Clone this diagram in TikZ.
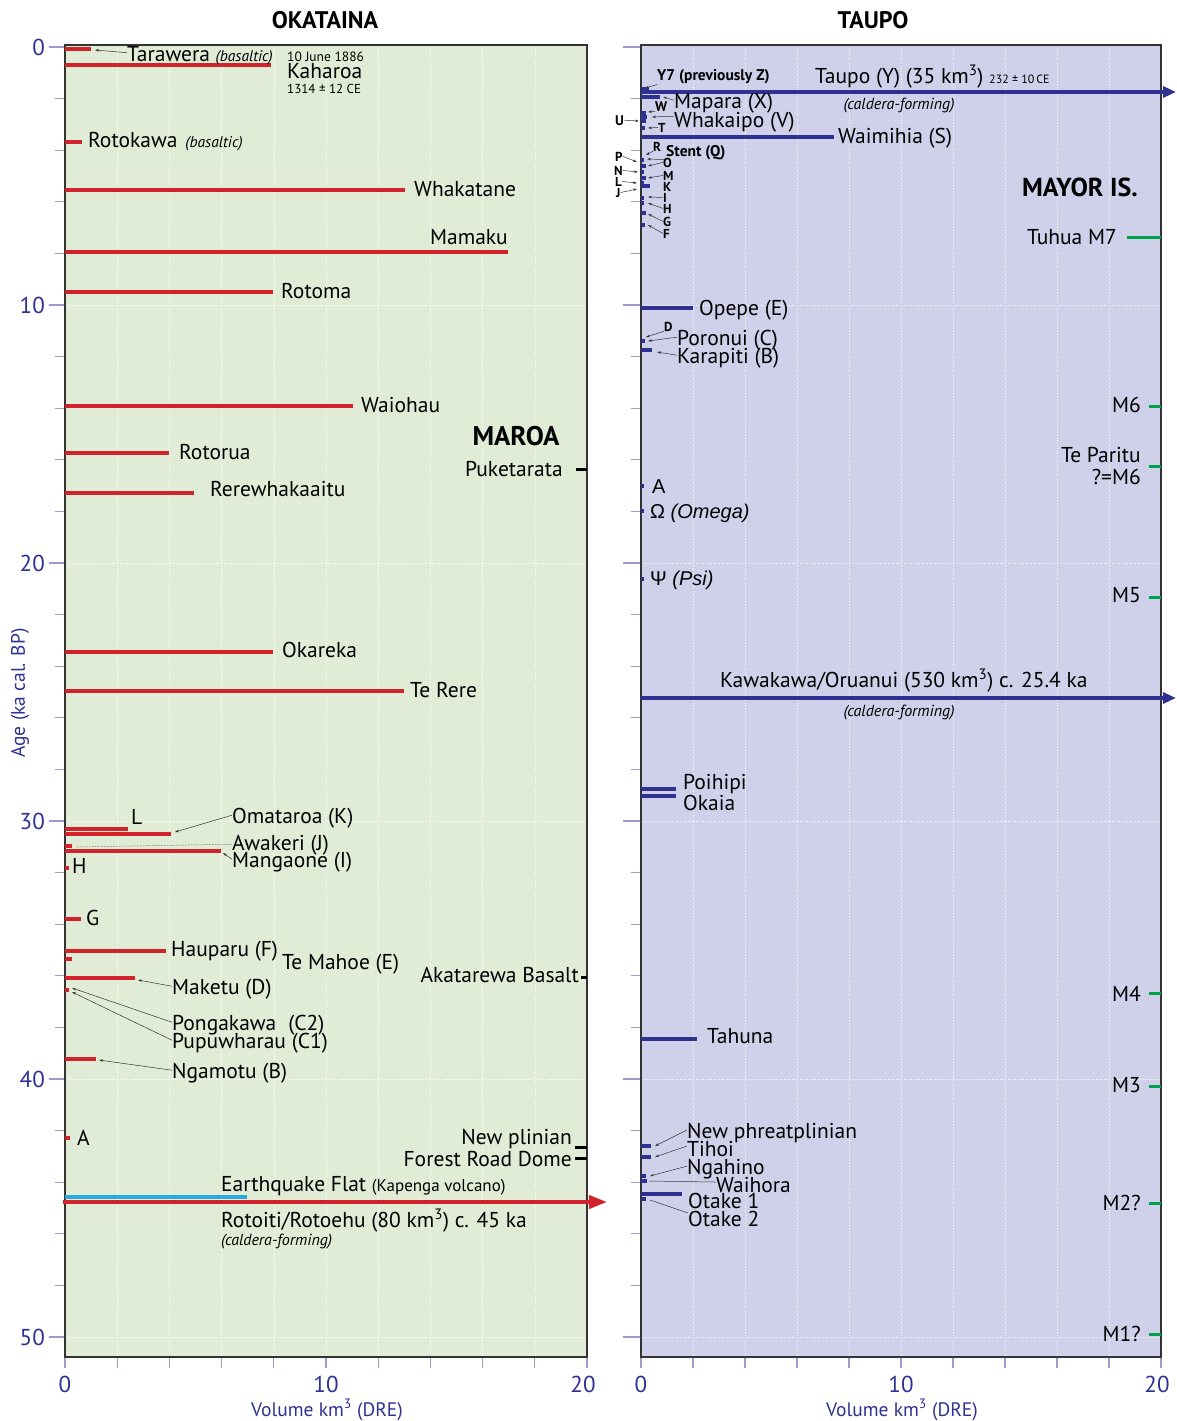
\documentclass[tikz,border=0pt]{standalone}
\usepackage{fontspec}
\setmainfont{PT Sans}
\newfontfamily\grk{Liberation Sans}
\usetikzlibrary{arrows.meta}
\definecolor{okbg}{HTML}{E0ECD6}
\definecolor{tpbg}{HTML}{CFD1EA}
\definecolor{vred}{HTML}{D2232A}
\definecolor{vblue}{HTML}{2E3192}
\definecolor{vgreen}{HTML}{00A14B}
\definecolor{vcyan}{HTML}{27AAE1}
\definecolor{axblue}{HTML}{2E3192}
\definecolor{tickc}{HTML}{9C9CD0}
\definecolor{framec}{HTML}{333333}
\newcommand\fs[1]{\fontsize{#1}{#1}\selectfont}
% bars: red (Okataina), blue (Taupo), green (Mayor Is.), black (Maroa)
\newcommand\okbar[2]{\draw[redbar] (65,#1) -- (#2,#1);}
\newcommand\tpbar[2]{\draw[bluebar] (641,#1) -- (#2,#1);}
\newcommand\mibar[2]{\draw[greenbar] (#2,#1) -- (1161,#1);}
\newcommand\mabar[2]{\draw[blackbar] (#2,#1) -- (587,#1);}
\begin{document}
\begin{tikzpicture}[x=1pt,y=-1pt,
  lab/.style={anchor=mid west,inner sep=0pt,yshift=-3pt,font=\fs{21.5}},
  rlab/.style={anchor=mid east,inner sep=0pt,yshift=-3pt,font=\fs{21.5}},
  sml/.style={anchor=mid west,inner sep=0pt,yshift=-2pt,font=\fs{13.5}},
  tinyb/.style={anchor=mid west,inner sep=0pt,yshift=-1.5pt,font=\bfseries\fs{13}},
  head/.style={inner sep=0pt,font=\bfseries\fs{24}},
  axnum/.style={inner sep=0pt,text=axblue,font=\fs{23}},
  axtitle/.style={inner sep=0pt,text=axblue,font=\fs{19.5}},
  cf/.style={inner sep=0pt,font=\itshape\fs{16}},
  redbar/.style={vred,line width=4pt},
  bluebar/.style={vblue,line width=3.5pt},
  greenbar/.style={vgreen,line width=3pt},
  blackbar/.style={black,line width=3pt},
  ptr/.style={black!80,line width=0.5pt,-{Stealth[length=4pt,width=2.5pt]}},
  leader/.style={black!80,line width=0.5pt},
  grid/.style={white,line width=0.6pt,dotted},
  tick/.style={tickc,line width=1.2pt},
  frame/.style={framec,line width=1.2pt}
]
\useasboundingbox (0,0) rectangle (1176,1421);

% ---------- panel backgrounds ----------
\fill[okbg] (65,45) rectangle (587,1357);
\fill[tpbg] (641,45) rectangle (1161,1357);

% ---------- grid ----------
\foreach \v in {2,4,...,18} {
  \draw[grid] ({65+26.1*\v},45) -- ({65+26.1*\v},1357);
  \draw[grid] ({641+26*\v},45) -- ({641+26*\v},1357);
}
\foreach \a in {10,20,30,40,50} {
  \draw[grid] (65,{47+25.8*\a}) -- (587,{47+25.8*\a});
  \draw[grid] (641,{47+25.8*\a}) -- (1161,{47+25.8*\a});
}

% ---------- age ticks ----------
\foreach \a in {0,2,...,50} {
  \draw[tick] (55,{47+25.8*\a}) -- (65,{47+25.8*\a});
  \draw[tick] (631,{47+25.8*\a}) -- (641,{47+25.8*\a});
}
\foreach \a in {0,10,...,50} {
  \draw[tick] (49,{47+25.8*\a}) -- (65,{47+25.8*\a});
  \draw[tick] (623,{47+25.8*\a}) -- (641,{47+25.8*\a});
}
% ---------- volume ticks ----------
\foreach \v in {0,2,...,20} {
  \draw[tick] ({65+26.1*\v},1357) -- ({65+26.1*\v},1368);
  \draw[tick] ({641+26*\v},1357) -- ({641+26*\v},1368);
}

% ---------- frames ----------
\draw[frame] (65,45) rectangle (587,1357);
\draw[frame] (641,45) rectangle (1161,1357);

% ---------- axis labels ----------
\node[head] (hok) at (325,20) {OKATAINA};
\node[head] (htp) at (873,20) {TAUPO};
\foreach \a/\t in {0/0,10/10,20/20,30/30,40/40,50/50}
  \node[axnum,anchor=east] (age\a) at (45,{47+25.8*\a}) {\t};
\node[axtitle,rotate=90] (agetitle) at (20,693) {Age (ka cal. BP)};
\node[axnum] (vl0) at (65,1384) {0};
\node[axnum] (vl10) at (326,1384) {10};
\node[axnum] (vl20) at (583,1384) {20};
\node[axnum] (vr0) at (641,1384) {0};
\node[axnum] (vr10) at (901,1384) {10};
\node[axnum] (vr20) at (1157,1384) {20};
\node[axtitle] (vlt) at (327,1410) {Volume km\textsuperscript{3} (DRE)};
\node[axtitle] (vrt) at (902,1410) {Volume km\textsuperscript{3} (DRE)};

% ================= OKATAINA =================
\okbar{49}{91}
\okbar{65}{271}
\okbar{142}{82}
\okbar{190}{405}
\okbar{252}{508}
\okbar{292}{273}
\okbar{406}{353}
\okbar{453}{169}
\okbar{493}{194}
\okbar{652}{273}
\okbar{691}{404}
\okbar{829}{128}
\okbar{834}{171}
\okbar{846}{72}
\okbar{851}{221}
\okbar{868}{69}
\okbar{919}{81}
\okbar{951}{166}
\okbar{959}{72}
\okbar{978}{135}
\okbar{990}{69}
\okbar{1059}{96}
\okbar{1138}{70}
\draw[vcyan,line width=4pt] (65,1197) -- (247,1197);
\draw[vred,line width=4pt,-{Triangle[length=18pt,width=13pt]}] (63,1202) -- (607,1202);

\node[lab] (tar) at (127,56) {Tarawera {\itshape\fs{15.5}(basaltic)}};
\coordinate (tarb) at (95,50);
\draw[ptr] ([yshift=3pt]tar.west) -- (tarb);
\node[sml] (kdate) at (287,57) {10 June 1886};
\node[lab] (kah) at (287,73) {Kaharoa};
\node[sml,font=\fs{13}] (kce) at (287,89) {1314 ± 12 CE};
\node[lab] (rtk) at (88,142) {Rotokawa\hspace{8pt}{\itshape\fs{15.5}(basaltic)}};
\node[lab] (whk) at (414,191) {Whakatane};
\node[rlab] (mmk) at (508,239) {Mamaku};
\node[lab] (rtm) at (281,293) {Rotoma};
\node[lab] (wai) at (361,407) {Waiohau};
\node[head,font=\bfseries\fs{27}] (maroa) at (516,436) {MAROA};
\node[lab] (rtr) at (179,454) {Rotorua};
\node[rlab] (pkt) at (563,471) {Puketarata};
\node[lab] (rrw) at (210,491) {Rerewhakaaitu};
\node[lab] (okr) at (282,652) {Okareka};
\node[lab] (trr) at (410,692) {Te Rere};
\node[lab] (ltL) at (131,819) {L};
\node[lab] (omt) at (232,818) {Omataroa (K)};
\coordinate (omtb) at (175,832);
\draw[ptr] ([yshift=3pt]omt.west) -- (omtb);
\node[lab] (awk) at (232,845) {Awakeri (J)};
\coordinate (awkb) at (76,847);
\draw[leader,densely dotted] ([yshift=1pt]awk.west) -- (awkb);
\node[lab] (mgn) at (232,862) {Mangaone (I)};
\coordinate (mgnb) at (223,853);
\draw[ptr] ([yshift=3pt]mgn.west) -- (mgnb);
\node[lab] (ltH) at (72,868) {H};
\node[lab] (ltG) at (86,920) {G};
\node[lab] (hpr) at (171,951) {Hauparu (F)};
\node[lab] (tmh) at (282,964) {Te Mahoe (E)};
\node[rlab] (aka) at (579,977) {Akatarewa Basalt};
\node[lab] (mkt) at (172,989) {Maketu (D)};
\coordinate (mktb) at (138,980);
\draw[ptr] ([yshift=3pt]mkt.west) -- (mktb);
\node[lab] (pgk) at (172,1025) {Pongakawa\hspace{12pt}(C2)};
\coordinate (pgkb) at (72,988);
\draw[ptr] ([yshift=3pt]pgk.west) -- (pgkb);
\node[lab] (ppw) at (172,1043) {Pupuwharau (C1)};
\coordinate (ppwb) at (72,992);
\draw[ptr] ([yshift=3pt]ppw.west) -- (ppwb);
\node[lab] (ngm) at (172,1073) {Ngamotu (B)};
\coordinate (ngmb) at (99,1060);
\draw[ptr] ([yshift=3pt]ngm.west) -- (ngmb);
\node[lab] (ltA) at (77,1140) {A};
\node[rlab] (npl) at (572,1139) {New plinian};
\node[rlab] (frd) at (572,1161) {Forest Road Dome};
\node[lab] (eqf) at (221,1186) {Earthquake Flat {\fs{17}(Kapenga volcano)}};
\node[lab] (rto) at (221,1222) {Rotoiti/Rotoehu (80 km\textsuperscript{3}) c. 45 ka};
\node[cf,anchor=mid west,yshift=-2pt] (rtocf) at (221,1241) {(caldera-forming)};

% Maroa
\mabar{469}{576}
\mabar{977}{581}
\mabar{1147}{575}
\mabar{1158}{575}

% ================= TAUPO =================
\draw[vblue,line width=3.5pt,-{Triangle[length=13pt,width=11pt]}] (641,92) -- (1176,92);
\draw[vblue,line width=3.5pt,-{Triangle[length=13pt,width=11pt]}] (641,698) -- (1176,698);
\tpbar{89}{649}
\tpbar{97}{660}
\tpbar{113}{646}
\tpbar{117}{647}
\tpbar{121}{646}
\tpbar{128}{645}
\tpbar{137}{834}
\tpbar{160}{644}
\tpbar{166}{646}
\tpbar{172}{644}
\tpbar{178}{646}
\tpbar{183}{644}
\tpbar{186}{650}
\tpbar{198}{644}
\tpbar{203}{644}
\tpbar{213}{646}
\tpbar{225}{645}
\tpbar{308}{693}
\tpbar{341}{645}
\tpbar{350}{652}
\tpbar{486}{644}
\tpbar{511}{644}
\tpbar{579}{644}
\tpbar{789}{676}
\tpbar{796}{676}
\tpbar{1039}{697}
\tpbar{1146}{651}
\tpbar{1157}{651}
\tpbar{1176}{646}
\tpbar{1181}{647}
\tpbar{1194}{682}
\tpbar{1199}{646}

\node[tinyb,font=\bfseries\fs{15.5}] (y7) at (657,77) {Y7 (previously Z)};
\coordinate (y7b) at (645,88);
\draw[ptr] (y7.south west) -- (y7b);
\node[lab] (tpo) at (815,78) {Taupo (Y) (35 km\textsuperscript{3}) {\fs{12}232 ± 10\,CE}};
\node[cf] (tpocf) at (899,106) {(caldera-forming)};
\node[lab] (mpr) at (674,103) {Mapara (X)};
\coordinate (mprb) at (663,97);
\draw[ptr] ([yshift=3pt]mpr.west) -- (mprb);
\node[tinyb,font=\bfseries\fs{14}] (ltW) at (655,107) {W};
\coordinate (ltWb) at (648,112);
\draw[ptr] (ltW.south west) -- (ltWb);
\node[tinyb,font=\bfseries\fs{14}] (ltU) at (615,121) {U};
\coordinate (ltUb) at (639,121);
\draw[ptr] (ltU.east) -- (ltUb);
\node[lab] (wkp) at (674,122) {Whakaipo (V)};
\coordinate (wkpb) at (652,117);
\draw[ptr] ([yshift=6pt]wkp.west) -- (wkpb);
\node[tinyb] (ltT) at (658,128) {T};
\coordinate (ltTb) at (648,128);
\draw[ptr] (ltT.west) -- (ltTb);
\node[lab] (wmh) at (838,138) {Waimihia (S)};
\node[tinyb] (ltR) at (653,147) {R};
\coordinate (ltRb) at (646,155);
\draw[ptr] (ltR.south west) -- (ltRb);
\node[tinyb,font=\bfseries\fs{15.5}] (stn) at (666,152) {Stent (Q)};
\coordinate (stnb) at (647,159);
\draw[ptr] (stn.south west) -- (stnb);
% lettered Taupo tephras
\foreach \n/\x/\y/\tx/\ty in {P/615/157/637/162, N/614/171/638/172, L/615/182/637/183, J/616/193/637/189}{
  \node[tinyb] (lt\n) at (\x,\y) {\n};
  \coordinate (lt\n b) at (\tx,\ty);
  \draw[ptr] (lt\n.east) -- (lt\n b);
}
\foreach \n/\y/\tx/\ty in {O/163/648/166, M/176/648/178, I/198/648/197, H/209/648/203, G/222/648/214, F/234/648/225}{
  \node[tinyb] (lt\n) at (663,\y) {\n};
  \coordinate (lt\n b) at (\tx,\ty);
  \draw[ptr] (lt\n.west) -- (lt\n b);
}
\node[tinyb] (ltK) at (663,187) {K};
\node[lab] (opp) at (699,310) {Opepe (E)};
\node[tinyb] (ltD) at (664,327) {D};
\coordinate (ltDb) at (646,337);
\draw[ptr] (ltD.south west) -- (ltDb);
\node[lab] (prn) at (677,340) {Poronui (C)};
\coordinate (prnb) at (648,341);
\draw[ptr] ([yshift=3pt]prn.west) -- (prnb);
\node[lab] (krp) at (677,358) {Karapiti (B)};
\coordinate (krpb) at (657,352);
\draw[ptr] ([yshift=3pt]krp.west) -- (krpb);
\node[lab,font=\grk\fs{20}] (tA) at (652,488) {A};
\node[lab,font=\grk\fs{20}] (omg) at (650,513) {Ω {\itshape(Omega)}};
\node[lab,font=\grk\fs{20}] (psi) at (650,580) {Ψ {\itshape(Psi)}};
\node[lab] (kwk) at (720,682) {Kawakawa/Oruanui (530 km\textsuperscript{3}) c. 25.4 ka};
\node[cf] (kwkcf) at (899,713) {(caldera-forming)};
\node[lab] (phh) at (683,784) {Poihipi};
\node[lab] (oka) at (683,805) {Okaia};
\node[lab] (thn) at (707,1038) {Tahuna};
\node[lab] (nph) at (687,1133) {New phreatplinian};
\coordinate (nphb) at (655,1146);
\draw[ptr] ([yshift=3pt]nph.west) -- (nphb);
\node[lab] (tih) at (687,1151) {Tihoi};
\coordinate (tihb) at (655,1157);
\draw[ptr] ([yshift=3pt]tih.west) -- (tihb);
\node[lab] (ngh) at (687,1169) {Ngahino};
\coordinate (nghb) at (650,1176);
\draw[ptr] ([yshift=3pt]ngh.west) -- (nghb);
\node[lab] (whr) at (716,1187) {Waihora};
\coordinate (whrb) at (649,1181);
\draw[leader] ([yshift=3pt]whr.west) -- (whrb);
\node[lab] (otk1) at (688,1203) {Otake 1};
\node[lab] (otk2) at (688,1221) {Otake 2};
\coordinate (otk2b) at (650,1200);
\draw[leader] ([yshift=6pt]otk2.west) -- (otk2b);

% ================= MAYOR ISLAND =================
\node[rlab,font=\bfseries\fs{26}] (mayor) at (1138,191) {MAYOR IS.};
\mibar{237}{1127}
\mibar{406}{1149}
\mibar{466}{1149}
\mibar{597}{1149}
\mibar{993}{1149}
\mibar{1086}{1149}
\mibar{1203}{1149}
\mibar{1334}{1149}
\node[rlab] (m7) at (1117,239) {Tuhua M7};
\node[rlab] (m6) at (1141,407) {M6};
\node[rlab] (tpr) at (1141,457) {Te Paritu};
\node[rlab] (tpr2) at (1141,479) {?=M6};
\node[rlab] (m5) at (1141,597) {M5};
\node[rlab] (m4) at (1141,996) {M4};
\node[rlab] (m3) at (1141,1087) {M3};
\node[rlab] (m2) at (1141,1205) {M2?};
\node[rlab] (m1) at (1141,1336) {M1?};
\end{tikzpicture}
\end{document}
